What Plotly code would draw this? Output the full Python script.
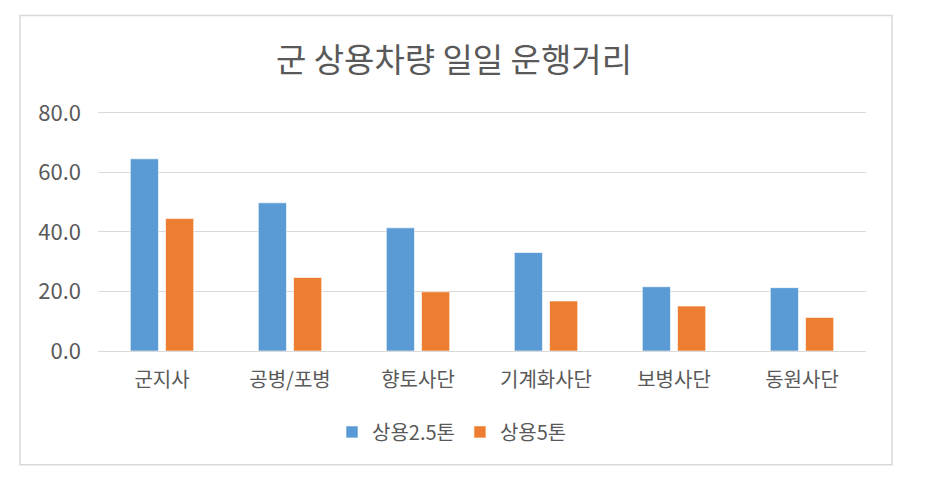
import plotly.graph_objects as go

categories = ["군지사", "공병/포병", "향토사단", "기계화사단", "보병사단", "동원사단"]
series_names = ["상용2.5톤", "상용5톤"]
values_25 = [64.6, 49.8, 41.4, 33.1, 21.6, 21.3]
values_5 = [44.5, 24.7, 19.9, 16.8, 15.1, 11.3]
y_ticks = [0, 20, 40, 60, 80]

W, H = 927, 481
L, R, B = 98, 866, 351
YMAX = 81
T = B - (B - 112.7) * YMAX / 80
FONT = "Noto Sans CJK KR"
GREY = "#595959"

fig = go.Figure()
fig.add_trace(go.Bar(x=categories, y=values_25, name=series_names[0],
                     marker=dict(color="#5B9BD5", line=dict(color="rgba(255,255,255,0.6)", width=1))))
fig.add_trace(go.Bar(x=categories, y=values_5, name=series_names[1],
                     marker=dict(color="#ED7D31", line=dict(color="rgba(255,255,255,0.6)", width=1))))

pw, ph = R - L, B - T
def px(x):
    return (x - L) / pw
def py(y):
    return (B - y) / ph

fig.update_layout(
    width=W, height=H,
    margin=dict(l=L, r=W - R, t=T, b=H - B, pad=0),
    paper_bgcolor="white", plot_bgcolor="white",
    barmode="group", bargap=0.45, bargroupgap=0.2,
    font=dict(family=FONT, color=GREY),
    title=dict(text="군 상용차량 일일 운행거리", x=454 / W, xanchor="center",
               y=1 - 60 / H, yanchor="middle", yref="container",
               font=dict(size=33, color=GREY, family=FONT)),
    xaxis=dict(showgrid=False, showline=True, linecolor="#d9d9d9", linewidth=1,
               ticks="", ticklabelstandoff=11,
               tickfont=dict(size=20, color=GREY, family=FONT)),
    yaxis=dict(range=[0, YMAX], tickvals=y_ticks, tickformat=".1f",
               showgrid=True, gridcolor="#d9d9d9", gridwidth=1,
               zeroline=True, zerolinecolor="#d9d9d9", zerolinewidth=1,
               showline=False, ticks="", ticklabelstandoff=16,
               tickfont=dict(size=22, color=GREY, family=FONT)),
    legend=dict(orientation="h", x=px(452), xanchor="center", y=py(432), yanchor="middle",
                font=dict(size=20, color=GREY, family=FONT), itemwidth=30,
                traceorder="normal"),
    shapes=[dict(type="rect", xref="paper", yref="paper",
                 x0=px(20), x1=px(892), y0=py(465), y1=py(15),
                 line=dict(color="#d9d9d9", width=1.5), fillcolor="rgba(0,0,0,0)", layer="below")],
    showlegend=True,
)
fig.write_html("out.html")
